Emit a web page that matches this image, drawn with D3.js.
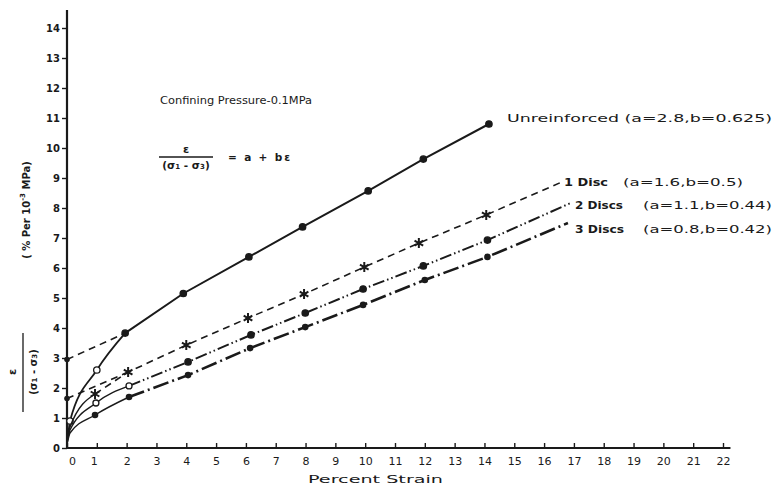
<!DOCTYPE html>
<html>
<head>
<meta charset="utf-8">
<script src="https://cdn.jsdelivr.net/npm/d3@7/dist/d3.min.js"></script>
<style>
  html, body { margin: 0; padding: 0; background: #fff; }
  svg { display: block; }
  text { font-family: "DejaVu Sans", "Liberation Sans", sans-serif; fill: #1a1a1a; }
</style>
</head>
<body>
<svg id="chart" width="773" height="489"></svg>
<script>
// ---------------- DATA ----------------
const xTickValues = d3.range(0, 23);
const yTickValues = d3.range(0, 15);

const seriesNames = ["Unreinforced", "1 Disc", "2 Discs", "3 Discs"];
const seriesParams = ["(a=2.8,b=0.625)", "(a=1.6,b=0.5)", "(a=1.1,b=0.44)", "(a=0.8,b=0.42)"];

const unreinforcedStrain = [0.03, 0.1, 1.0, 1.95, 3.9, 6.1, 7.9, 10.1, 11.95, 14.15];
const unreinforcedValue  = [0.3, 0.9, 2.6, 3.83, 5.15, 6.37, 7.37, 8.57, 9.63, 10.8];

const disc1Strain = [0.02, 0.1, 0.94, 2.05, 4.0, 6.07, 7.95, 9.97, 11.8, 14.06, 16.6];
const disc1Value  = [0.3, 0.7, 1.8, 2.53, 3.43, 4.33, 5.13, 6.03, 6.83, 7.77, 8.87];

const disc2Strain = [0.02, 0.1, 0.97, 2.08, 4.06, 6.17, 7.99, 9.93, 11.95, 14.1, 16.9];
const disc2Value  = [0.25, 0.6, 1.5, 2.07, 2.87, 3.77, 4.5, 5.3, 6.07, 6.93, 8.17];

const disc3Strain = [0.02, 0.1, 0.94, 2.08, 4.06, 6.14, 7.99, 9.93, 12.0, 14.1, 16.8];
const disc3Value  = [0.2, 0.5, 1.1, 1.7, 2.43, 3.33, 4.03, 4.77, 5.6, 6.37, 7.5];

// linear-fit extensions back to the axis (intercepts)
const unreinforcedFitStrain = [0, 1.95];
const unreinforcedFitValue  = [2.95, 3.83];
const disc1FitStrain = [0, 2.05];
const disc1FitValue  = [1.65, 2.53];

// ---------------- LAYOUT ----------------
const svg = d3.select("#chart");
const ink = "#1a1a1a";
const x = d3.scaleLinear().domain([0, 22]).range([67, 723]);
const y = d3.scaleLinear().domain([0, 14]).range([448, 28]);

const zip = (xs, ys) => xs.map((v, i) => [v, ys[i]]);
const series = [
  { name: seriesNames[0], params: seriesParams[0], pts: zip(unreinforcedStrain, unreinforcedValue),
    solidUntil: 3, dash: null, width: 2, headWidth: 1.8, marker: "circle", markerFrom: 1, markerTo: 99,
    fit: zip(unreinforcedFitStrain, unreinforcedFitValue) },
  { name: seriesNames[1], params: seriesParams[1], pts: zip(disc1Strain, disc1Value),
    solidUntil: 2, dash: "7,5", width: 1.6, headWidth: 1.4, marker: "star", markerFrom: 2, markerTo: 9,
    fit: zip(disc1FitStrain, disc1FitValue) },
  { name: seriesNames[2], params: seriesParams[2], pts: zip(disc2Strain, disc2Value),
    solidUntil: 3, dash: "12,3,1.5,3,1.5,3", width: 2, headWidth: 1.4, marker: "open", markerFrom: 2, markerTo: 9,
    fit: null },
  { name: seriesNames[3], params: seriesParams[3], pts: zip(disc3Strain, disc3Value),
    solidUntil: 3, dash: "16,4,2,4", width: 2.6, headWidth: 1.4, marker: "dot", markerFrom: 2, markerTo: 9,
    fit: null }
];

const line = d3.line().x(d => x(d[0])).y(d => y(d[1]));
const curve = d3.line().x(d => x(d[0])).y(d => y(d[1])).curve(d3.curveMonotoneX);

// ---------------- AXES ----------------
const gx = svg.append("g").attr("transform", `translate(0,${y(0)})`)
  .call(d3.axisBottom(x).tickValues(xTickValues).tickSize(-5).tickPadding(9));
gx.select(".domain").remove();
gx.selectAll(".tick line").attr("stroke", ink).attr("stroke-width", 1.4);
gx.selectAll(".tick text").attr("font-size", 11).attr("fill", ink)
  .attr("font-family", "'DejaVu Sans Condensed','DejaVu Sans',sans-serif")
  .attr("dx", d => d === 0 ? 5 : (d === 1 ? -3 : 0));

const gy = svg.append("g").attr("transform", `translate(${x(0)},0)`)
  .call(d3.axisLeft(y).tickValues(yTickValues).tickSize(5).tickPadding(2));
gy.select(".domain").remove();
gy.selectAll(".tick line").attr("stroke", ink).attr("stroke-width", 1.4);
gy.selectAll(".tick text").attr("font-size", 10).attr("font-weight", "bold").attr("fill", ink)
  .attr("font-family", "'DejaVu Sans Condensed','DejaVu Sans',sans-serif");

svg.append("line").attr("x1", x(0)).attr("x2", x(22.25)).attr("y1", y(0)).attr("y2", y(0))
  .attr("stroke", ink).attr("stroke-width", 2.2);
svg.append("line").attr("x1", x(0)).attr("x2", x(0)).attr("y1", y(0)).attr("y2", y(14.6))
  .attr("stroke", ink).attr("stroke-width", 2.2);

// ---------------- SERIES ----------------
series.forEach(s => {
  const k = Math.min(s.solidUntil, s.pts.length - 1);
  const head = s.pts.slice(0, k + 1);
  const tail = s.pts.slice(k);
  svg.append("path").attr("d", curve(head)).attr("fill", "none")
    .attr("stroke", ink).attr("stroke-width", s.headWidth);
  if (tail.length > 1) {
    svg.append("path").attr("d", line(tail)).attr("fill", "none")
      .attr("stroke", ink).attr("stroke-width", s.width)
      .attr("stroke-dasharray", s.dash);
  }
  if (s.fit) {
    svg.append("path").attr("d", line(s.fit)).attr("fill", "none")
      .attr("stroke", ink).attr("stroke-width", 1.6).attr("stroke-dasharray", "7,5");
    svg.append("circle").attr("cx", x(s.fit[0][0])).attr("cy", y(s.fit[0][1])).attr("r", 2.8).attr("fill", ink);
  }
  const mk = s.pts.filter((d, i) => i >= s.markerFrom && i <= s.markerTo);
  const g = svg.append("g");
  mk.forEach((d, i) => {
    const cx = x(d[0]), cy = y(d[1]);
    if (s.marker === "star") {
      const sym = d3.symbol().type(d3.symbolAsterisk || d3.symbolCross).size(70);
      g.append("path").attr("d", sym()).attr("transform", `translate(${cx},${cy})`)
        .attr("fill", "none").attr("stroke", ink).attr("stroke-width", 2);
    } else if (s.marker === "open") {
      const open = i < 2;
      g.append("circle").attr("cx", cx).attr("cy", cy).attr("r", open ? 3 : 3.2)
        .attr("fill", open ? "#fff" : ink).attr("stroke", ink).attr("stroke-width", 1.3);
    } else if (s.marker === "circle") {
      const open = i < 2;
      g.append("circle").attr("cx", cx).attr("cy", cy).attr("r", 3.2)
        .attr("fill", open ? "#fff" : ink).attr("stroke", ink).attr("stroke-width", 1.3);
    } else {
      g.append("circle").attr("cx", cx).attr("cy", cy).attr("r", 3.3).attr("fill", ink);
    }
  });
});

// ---------------- LABELS ----------------
const labelFont = "'DejaVu Sans','Liberation Sans',sans-serif";
function spaced(txt, x0, yc, len, size, weight) {
  return svg.append("text").attr("x", x0).attr("y", yc).attr("dominant-baseline", "central")
    .attr("font-size", size).attr("font-weight", weight || "normal")
    .attr("font-family", labelFont)
    .attr("textLength", len).attr("lengthAdjust", "spacingAndGlyphs").text(txt);
}

// series labels
spaced(series[0].name + " " + series[0].params, 507, 118, 265, 11);
spaced(series[1].name, 564, 182, 44, 11, "bold");
spaced(series[1].params, 623, 182, 120, 11);
spaced(series[2].name, 575, 205, 48, 11, "bold");
spaced(series[2].params, 643, 205, 129, 11);
spaced(series[3].name, 575, 229, 49, 11, "bold");
spaced(series[3].params, 643, 229, 129, 11);

// annotation
spaced("Confining Pressure-0.1MPa", 160, 100, 152, 10.5);

// equation
svg.append("text").attr("x", 186).attr("y", 149).attr("text-anchor", "middle")
  .attr("dominant-baseline", "central").attr("font-size", 11).attr("font-weight", "bold").text("ε");
svg.append("line").attr("x1", 159).attr("x2", 213).attr("y1", 157).attr("y2", 157)
  .attr("stroke", ink).attr("stroke-width", 1.3);
const den = svg.append("text").attr("x", 186).attr("y", 165).attr("text-anchor", "middle")
  .attr("dominant-baseline", "central").attr("font-size", 10.5).attr("font-weight", "bold");
den.append("tspan").text("(σ");
den.append("tspan").attr("baseline-shift", "-30%").attr("font-size", 7).text("1");
den.append("tspan").text(" - σ");
den.append("tspan").attr("baseline-shift", "-30%").attr("font-size", 7).text("3");
den.append("tspan").text(")");
svg.append("text").attr("x", 228).attr("y", 157).attr("dominant-baseline", "central")
  .attr("font-size", 10.5).attr("font-weight", "bold").attr("textLength", 62)
  .attr("lengthAdjust", "spacing").text("= a + bε");

// x axis title
spaced("Percent Strain", 308, 479, 135, 11);

// y axis title (rotated)
const yt = svg.append("g");
yt.append("text").attr("transform", `translate(12,372) rotate(-90)`).attr("text-anchor", "middle")
  .attr("dominant-baseline", "central").attr("font-size", 11).attr("font-weight", "bold").text("ε");
yt.append("line").attr("x1", 23).attr("x2", 23).attr("y1", 333).attr("y2", 412)
  .attr("stroke", ink).attr("stroke-width", 1.3);
const yden = yt.append("text").attr("transform", `translate(33,372) rotate(-90)`).attr("text-anchor", "middle")
  .attr("dominant-baseline", "central").attr("font-size", 10).attr("font-weight", "bold");
yden.append("tspan").text("(σ");
yden.append("tspan").attr("baseline-shift", "-30%").attr("font-size", 7).text("1");
yden.append("tspan").text(" - σ");
yden.append("tspan").attr("baseline-shift", "-30%").attr("font-size", 7).text("3");
yden.append("tspan").text(")");
const yu = yt.append("text").attr("transform", `translate(26,210) rotate(-90)`).attr("text-anchor", "middle")
  .attr("dominant-baseline", "central").attr("font-size", 10).attr("font-weight", "bold");
yu.append("tspan").text("( % Per 10");
yu.append("tspan").attr("baseline-shift", "45%").attr("font-size", 7).text("-3");
yu.append("tspan").text(" MPa)");
</script>
</body>
</html>
